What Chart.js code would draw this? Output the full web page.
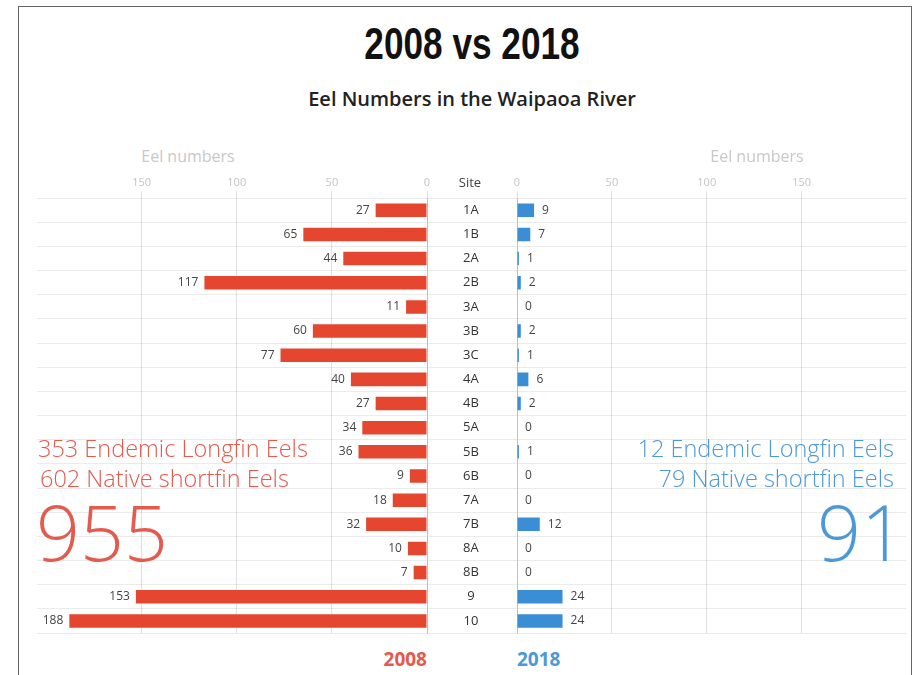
<!DOCTYPE html>
<html>
<head>
<meta charset="utf-8">
<script src="https://cdn.jsdelivr.net/npm/chart.js@4.4.1/dist/chart.umd.min.js"></script>
<style>
  body { margin: 0; background: #fff; font-family: "Open Sans", sans-serif; }
  #wrap { position: relative; width: 919px; height: 675px; overflow: hidden; background: #fff; }
  #frame { position: absolute; left: 18px; top: 6px; width: 894px; height: 700px; border: 1px solid #666; box-sizing: border-box; }
  .txt { position: absolute; white-space: nowrap; line-height: 1; }
  .mid { transform: translateX(-50%); }
  #title { left: 472px; top: 22px; font-family: "Liberation Sans", sans-serif; font-weight: bold; font-size: 44px; color: #111; transform: translateX(-50%) scaleX(0.8); }
  #subtitle { left: 472px; top: 89px; font-size: 20px; font-weight: 600; color: #222; }
  .axisTitle { top: 148px; font-size: 16px; color: #c8c8c8; }
  #site { left: 470px; top: 176px; font-size: 13px; color: #444; }
  .red { color: #e45a4d; }
  .blue { color: #4d98d8; }
  .note { font-size: 23.5px; font-weight: 300; }
  .big { font-size: 77px; font-weight: 300; }
  .year { top: 650px; font-size: 19px; font-weight: bold; }
  canvas { position: absolute; }
</style>
</head>
<body>
<div id="wrap">
  <div id="frame"></div>
  <canvas id="chart2008" width="517" height="470" style="left:0px; top:170px;"></canvas>
  <canvas id="chart2018" width="412" height="470" style="left:507px; top:170px;"></canvas>

  <div id="title" class="txt">2008 vs 2018</div>
  <div id="subtitle" class="txt mid">Eel Numbers in the Waipaoa River</div>
  <div class="txt mid axisTitle" style="left:188px;">Eel numbers</div>
  <div class="txt mid axisTitle" style="left:757px;">Eel numbers</div>
  <div id="site" class="txt mid">Site</div>

  <div class="txt note red" style="left:38px; top:437px;">353 Endemic Longfin Eels</div>
  <div class="txt note red" style="left:40px; top:467px;">602 Native shortfin Eels</div>
  <div class="txt big red" style="left:36px; top:493px;">955</div>

  <div class="txt note blue" style="right:25px; top:437px;">12 Endemic Longfin Eels</div>
  <div class="txt note blue" style="right:25px; top:467px;">79 Native shortfin Eels</div>
  <div class="txt big blue" style="right:14px; top:493px;">91</div>

  <div class="txt year red" style="right:492px;">2008</div>
  <div class="txt year blue" style="left:517px;">2018</div>
</div>

<script>
var SITES = ["1A","1B","2A","2B","3A","3B","3C","4A","4B","5A","5B","6B","7A","7B","8A","8B","9","10"];
var EELS_2008 = [27,65,44,117,11,60,77,40,27,34,36,9,18,32,10,7,153,188];
var EELS_2018 = [9,7,1,2,0,2,1,6,2,0,1,0,0,12,0,0,24,24];
var X_TICKS = [0,50,100,150];
var AXIS_MAX = 205;

var RED = '#e4462f';
var BLUE = '#3a8ed6';
var GRID_V = 'rgba(0,0,0,0.12)';
var GRID_H = 'rgba(0,0,0,0.08)';
var ZERO_LINE = 'rgba(120,160,200,0.45)';

// draws the value next to the end of every bar
var valueLabels = {
    id: 'valueLabels',
    afterDatasetsDraw(chart, args, opts) {
        var ctx = chart.ctx;
        var meta = chart.getDatasetMeta(0);
        var values = chart.data.datasets[0].data;
        ctx.save();
        ctx.font = '12px "Open Sans"';
        ctx.fillStyle = '#444';
        ctx.textBaseline = 'middle';
        ctx.textAlign = opts.side == 'left' ? 'right' : 'left';
        meta.data.forEach((bar, i) => {
            if (opts.side == 'left') {
                ctx.fillText(values[i], bar.x - 6, bar.y);
            } else {
                ctx.fillText(values[i], bar.x + 8, bar.y);
            }
        });
        ctx.restore();
    }
};

function keepTicks(scale) {
    scale.ticks = X_TICKS.map(v => ({value: v}));
}

function xScale(reverse) {
    return {
        position: 'top',
        reverse: reverse,
        min: 0,
        max: AXIS_MAX,
        afterBuildTicks: keepTicks,
        grid: { color: GRID_V, tickLength: 7 },
        border: { display: false },
        ticks: { color: '#c4c4c4', font: { family: 'Open Sans', size: 11 }, padding: 2 }
    };
}

new Chart(document.getElementById('chart2008'), {
    type: 'bar',
    data: {
        labels: SITES,
        datasets: [{
            label: '2008',
            data: EELS_2008,
            backgroundColor: RED,
            categoryPercentage: 1,
            barPercentage: 0.56
        }]
    },
    options: {
        responsive: false,
        animation: false,
        indexAxis: 'y',
        layout: { padding: { left: 37, right: 0, top: 4, bottom: 7 } },
        plugins: {
            legend: { display: false },
            tooltip: { enabled: false },
            valueLabels: { side: 'left' }
        },
        scales: {
            x: xScale(true),
            y: {
                position: 'right',
                afterFit: scale => { scale.width = 90; },
                grid: { color: GRID_H, tickLength: 90 },
                border: { color: ZERO_LINE },
                ticks: { color: '#333', font: { family: 'Open Sans', size: 13 }, crossAlign: 'center', padding: -54 }
            }
        }
    },
    plugins: [valueLabels]
});

new Chart(document.getElementById('chart2018'), {
    type: 'bar',
    data: {
        labels: SITES,
        datasets: [{
            label: '2018',
            data: EELS_2018,
            backgroundColor: BLUE,
            categoryPercentage: 1,
            barPercentage: 0.56
        }]
    },
    options: {
        responsive: false,
        animation: false,
        indexAxis: 'y',
        layout: { padding: { left: 10, right: 13, top: 4, bottom: 7 } },
        plugins: {
            legend: { display: false },
            tooltip: { enabled: false },
            valueLabels: { side: 'right' }
        },
        scales: {
            x: xScale(false),
            y: {
                grid: { color: GRID_H, drawTicks: false },
                border: { color: ZERO_LINE },
                ticks: { display: false }
            }
        }
    },
    plugins: [valueLabels]
});
</script>
</body>
</html>
